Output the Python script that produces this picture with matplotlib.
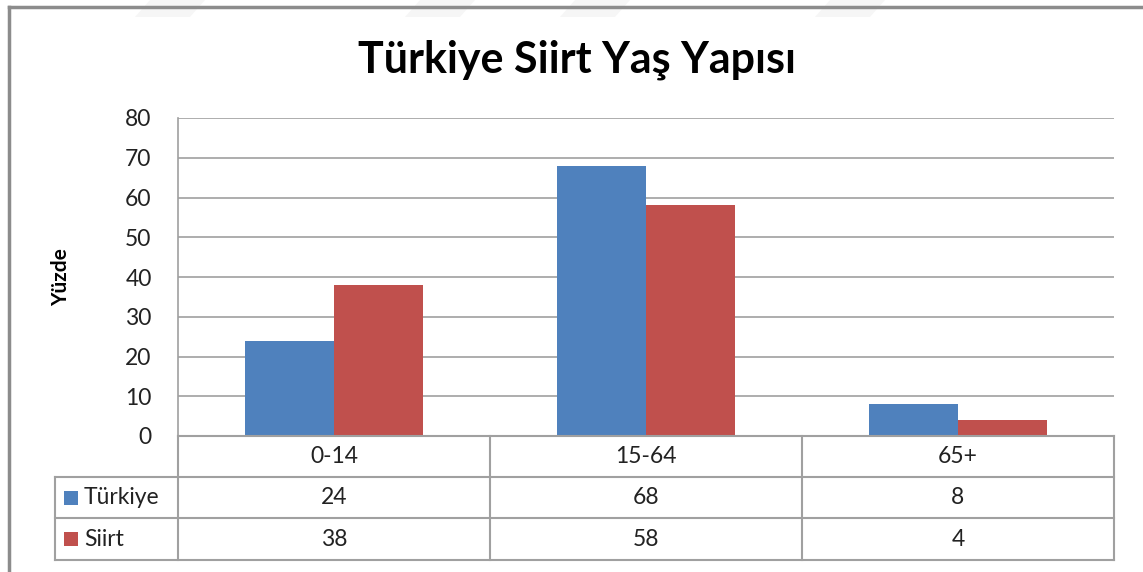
import matplotlib
matplotlib.use("Agg")
import matplotlib.pyplot as plt
from matplotlib.patches import Rectangle, Polygon
import numpy as np

plt.rcParams['font.family'] = ['Lato', 'DejaVu Sans']

categories = ['0-14', '15-64', '65+']
series_names = ['Türkiye', 'Siirt']
turkiye = [24, 68, 8]
siirt = [38, 58, 4]
colors = ['#4F81BD', '#C0504D']
yticks = [0, 10, 20, 30, 40, 50, 60, 70, 80]

W, H = 1143, 572
fig = plt.figure(figsize=(W / 100, H / 100), dpi=100)

# pixel helpers
def fx(px):
    return px / W

def fy(py):
    return 1 - py / H

ax_l, ax_r, ax_t, ax_b = 178, 1114, 118, 436
ax = fig.add_axes([fx(ax_l), fy(ax_b), fx(ax_r - ax_l), (ax_b - ax_t) / H])

x = np.arange(len(categories))
w = 0.285
ax.bar(x - w / 2, turkiye, w, color=colors[0], zorder=3)
ax.bar(x + w / 2, siirt, w, color=colors[1], zorder=3)
ax.set_xlim(-0.5, len(categories) - 0.5)
ax.set_ylim(0, 80)
ax.set_yticks(yticks)
ax.set_yticklabels([str(t) for t in yticks], fontsize=16.5, color='#222222')
ax.tick_params(axis='y', length=0, pad=19)
ax.set_xticks([])
ax.yaxis.grid(True, color='#A0A0A0', linewidth=1.2, zorder=0)
for s in ['top', 'right', 'bottom']:
    ax.spines[s].set_visible(False)
ax.spines['left'].set_color('#A0A0A0')
ax.spines['left'].set_linewidth(1.2)

fig.text(fx(61), fy(277), 'Yüzde', rotation=90, ha='center', va='center',
         fontsize=15, fontweight='bold')
fig.text(fx(577), fy(60), 'Türkiye Siirt Yaş Yapısı', ha='center', va='center',
         fontsize=31, fontweight='bold')

# overlay in pixel coordinates for the data table and frame
ov = fig.add_axes([0, 0, 1, 1], zorder=5)
ov.set_xlim(0, W)
ov.set_ylim(H, 0)
ov.axis('off')
ov.patch.set_alpha(0)

# faint watermark stripes at the top
for x0 in [150, 420, 575, 830]:
    ov.add_patch(Polygon([[x0, 0], [x0 + 55, 0], [x0 + 40, 17], [x0 - 15, 17]],
                         closed=True, color='#F6F6F6', lw=0))

# outer frame
ov.plot([9, W], [7, 7], color='#8C8C8C', lw=2.5)
ov.plot([9, 9], [7, H], color='#8C8C8C', lw=2.5)

grid_c = '#A0A0A0'
col_x = [ax_l, 490, 802, ax_r]
row_y = [ax_b, 477, 518, 560]
tab_l = 55
ov.plot([ax_l, ax_r], [ax_b, ax_b], color=grid_c, lw=1.5)
for yy in row_y[1:]:
    ov.plot([tab_l, ax_r], [yy, yy], color=grid_c, lw=1.5)
for xx in col_x:
    ov.plot([xx, xx], [row_y[0], row_y[-1]], color=grid_c, lw=1.5)
ov.plot([tab_l, tab_l], [row_y[1], row_y[-1]], color=grid_c, lw=1.5)

for i, cat in enumerate(categories):
    cx = (col_x[i] + col_x[i + 1]) / 2
    ov.text(cx, (row_y[0] + row_y[1]) / 2, cat, ha='center', va='center',
            fontsize=16.5, color='#222222')
    for j, vals in enumerate([turkiye, siirt]):
        ov.text(cx, (row_y[j + 1] + row_y[j + 2]) / 2, str(vals[i]),
                ha='center', va='center', fontsize=16.5, color='#222222')

for j, name in enumerate(series_names):
    cy = (row_y[j + 1] + row_y[j + 2]) / 2
    ov.add_patch(Rectangle((64, cy - 7), 14, 14, color=colors[j], lw=0))
    ov.text(84, cy, name, ha='left', va='center', fontsize=16.5, color='#222222')

fig.savefig('out.png', dpi=100, facecolor='white')
